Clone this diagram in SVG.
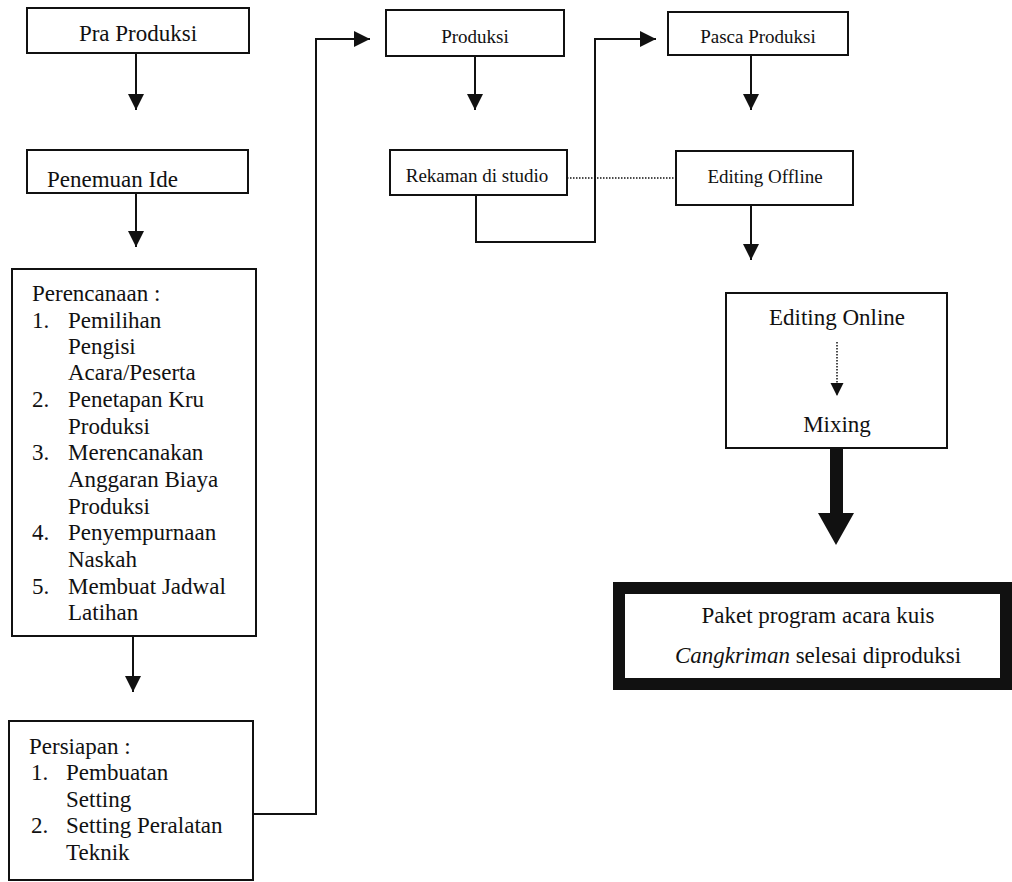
<svg xmlns="http://www.w3.org/2000/svg" width="1012" height="882" viewBox="0 0 1012 882">
<style>
.box{fill:#fff;stroke:#111;stroke-width:2}
.t{font-family:"Liberation Serif","Times New Roman",serif;font-size:23px;fill:#111}
.s{font-size:19px}
.c{text-anchor:middle}
.ln{fill:none;stroke:#111;stroke-width:2}
.dot{fill:none;stroke:#111;stroke-width:1.5;stroke-dasharray:1.5 1.5}
</style>
<defs>
<marker id="ah" viewBox="0 0 16 16" refX="16" refY="8" markerWidth="16" markerHeight="16" markerUnits="userSpaceOnUse" orient="auto">
<path d="M0,0 L16,8 L0,16 z" fill="#111"/>
</marker>
<marker id="ahs" viewBox="0 0 14 14" refX="14" refY="7" markerWidth="13" markerHeight="14" markerUnits="userSpaceOnUse" orient="auto">
<path d="M0,0 L14,7 L0,14 z" fill="#111"/>
</marker>
</defs>
<rect width="1012" height="882" fill="#fff"/>
<g id="connectors">
<line class="ln" x1="136" y1="53" x2="136" y2="110" marker-end="url(#ah)"/>
<line class="ln" x1="136" y1="193" x2="136" y2="247" marker-end="url(#ah)"/>
<line class="ln" x1="133" y1="636" x2="133" y2="692" marker-end="url(#ah)"/>
<path class="ln" d="M253,814 H316 V39 H370" marker-end="url(#ah)"/>
<line class="ln" x1="475" y1="56" x2="475" y2="110" marker-end="url(#ah)"/>
<path class="ln" d="M476,195 V242 H595 V39 H656" marker-end="url(#ah)"/>
<line class="dot" x1="567" y1="178" x2="676" y2="178"/>
<line class="ln" x1="751" y1="55" x2="751" y2="110" marker-end="url(#ah)"/>
<line class="ln" x1="751" y1="205" x2="751" y2="260" marker-end="url(#ah)"/>
<path d="M830,448 H843 V513 H854 L836,545 L818,513 H830 Z" fill="#111"/>
</g>
<g id="pra-produksi">
<rect class="box" x="27" y="8" width="222" height="45"/>
<text class="t c" x="138" y="41">Pra Produksi</text>
</g>
<g id="penemuan-ide">
<rect class="box" x="27" y="150" width="221" height="43"/>
<text class="t" x="47" y="187">Penemuan Ide</text>
</g>
<g id="perencanaan">
<rect class="box" x="12" y="269" width="244" height="367"/>
<text class="t" x="32" y="301">Perencanaan :</text>
<text class="t" x="32" y="328">1.</text>
<text class="t" x="68" y="328">Pemilihan</text>
<text class="t" x="68" y="354">Pengisi</text>
<text class="t" x="68" y="380">Acara/Peserta</text>
<text class="t" x="32" y="407">2.</text>
<text class="t" x="68" y="407">Penetapan Kru</text>
<text class="t" x="68" y="434">Produksi</text>
<text class="t" x="32" y="460">3.</text>
<text class="t" x="68" y="460">Merencanakan</text>
<text class="t" x="68" y="487">Anggaran Biaya</text>
<text class="t" x="68" y="514">Produksi</text>
<text class="t" x="32" y="540">4.</text>
<text class="t" x="68" y="540">Penyempurnaan</text>
<text class="t" x="68" y="567">Naskah</text>
<text class="t" x="32" y="594">5.</text>
<text class="t" x="68" y="594">Membuat Jadwal</text>
<text class="t" x="68" y="620">Latihan</text>
</g>
<g id="persiapan">
<rect class="box" x="9" y="721" width="244" height="159"/>
<text class="t" x="29" y="754">Persiapan :</text>
<text class="t" x="31" y="780">1.</text>
<text class="t" x="66" y="780">Pembuatan</text>
<text class="t" x="66" y="807">Setting</text>
<text class="t" x="31" y="833">2.</text>
<text class="t" x="66" y="833">Setting Peralatan</text>
<text class="t" x="66" y="860">Teknik</text>
</g>
<g id="produksi">
<rect class="box" x="386" y="10" width="178" height="46"/>
<text class="t s c" x="475" y="43">Produksi</text>
</g>
<g id="rekaman">
<rect class="box" x="390" y="150" width="177" height="45"/>
<text class="t s c" x="477" y="182">Rekaman di studio</text>
</g>
<g id="pasca-produksi">
<rect class="box" x="668" y="12" width="180" height="43"/>
<text class="t s c" x="758" y="43">Pasca Produksi</text>
</g>
<g id="editing-offline">
<rect class="box" x="676" y="151" width="177" height="54"/>
<text class="t s c" x="765" y="183">Editing Offline</text>
</g>
<g id="editing-online-mixing">
<rect class="box" x="726" y="293" width="221" height="155"/>
<text class="t c" x="837" y="325">Editing Online</text>
<line class="dot" x1="837" y1="342" x2="837" y2="396" marker-end="url(#ahs)"/>
<text class="t c" x="837" y="432">Mixing</text>
</g>
<g id="paket-program">
<rect x="619" y="588" width="387" height="96" fill="#fff" stroke="#111" stroke-width="12"/>
<text class="t c" x="818" y="623">Paket program acara kuis</text>
<text class="t c" x="818" y="663"><tspan font-style="italic">Cangkriman</tspan> selesai diproduksi</text>
</g>
</svg>
